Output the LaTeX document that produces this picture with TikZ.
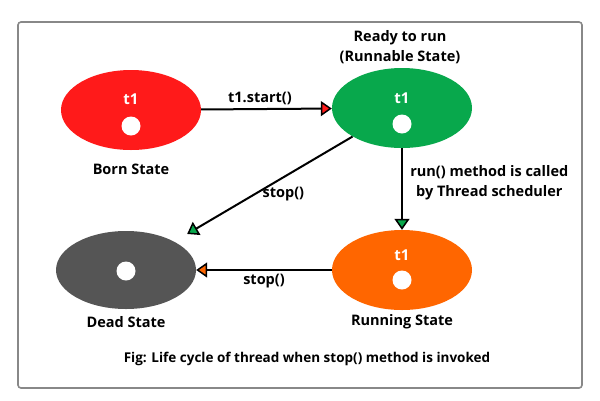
\documentclass[tikz,border=0pt]{standalone}
\usepackage{fontspec}
\setmainfont{Open Sans}
\usetikzlibrary{shapes.geometric,arrows.meta,positioning}
\definecolor{stred}{RGB}{255,26,26}
\definecolor{stgreen}{RGB}{8,168,76}
\definecolor{storange}{RGB}{255,102,0}
\definecolor{stgray}{RGB}{85,85,85}
\definecolor{framegray}{RGB}{136,136,136}

\begin{document}
\begin{tikzpicture}[x=1pt, y=-1pt,
  state/.style={ellipse, minimum width=140pt, minimum height=80pt, inner sep=0pt},
  dot/.style={circle, fill=white, minimum size=19pt, inner sep=0pt},
  tname/.style={text=white, font=\fontsize{15}{17}\selectfont\bfseries},
  lbl/.style={font=\fontsize{14.5}{20}\selectfont\bfseries, align=center},
  arr/.style={line width=2pt, -{Triangle[length=11pt, width=15pt, line width=1.5pt, fill=#1]}}
]
\useasboundingbox (0,0) rectangle (600,400);
\draw[framegray, line width=1.6pt, rounded corners=3pt] (18,22) rectangle (582,388);

% states
\node[state, fill=stred] (born) at (131,110) {};
\node[state, fill=stgreen] (ready) at (402,108) {};
\node[state, fill=storange] (running) at (402,270) {};
\node[state, fill=stgray, minimum height=78pt] (dead) at (126,270) {};

\node[tname] (bornT) at (131,99) {t1};
\node[dot] (bornD) at (131,126) {};
\node[tname] (readyT) at (402,98) {t1};
\node[dot] (readyD) at (402,124) {};
\node[tname] (runningT) at (402,255) {t1};
\node[dot] (runningD) at (402,280) {};
\node[dot] (deadD) at (126,271) {};

% state names
\node[lbl] (bornL) at (131,169) {Born State};
\node[lbl] (readyL) at (400,47) {Ready to run\\(Runnable State)};
\node[lbl] (runningL) at (402,322) {Running State};
\node[lbl] (deadL) at (126,322) {Dead State};

% transitions
\draw[arr=stred] (born) -- node[lbl, above, pos=0.45]{t1.start()} (ready);
\draw[arr=stgreen] (ready) -- node[lbl, right, xshift=4pt, yshift=6pt]{run() method is called\\by Thread scheduler} (running);
\draw[arr=stgreen, shorten >=71pt] (ready.210) -- node[lbl, below right, pos=0.35, xshift=-15pt]{stop()} (dead.center);
\draw[arr=storange] (running) -- node[lbl, below]{stop()} (dead);

\node[font=\fontsize{13.5}{16}\selectfont\bfseries] (caption) at (307,359) {Fig: Life cycle of thread when stop() method is invoked};
\end{tikzpicture}
\end{document}
